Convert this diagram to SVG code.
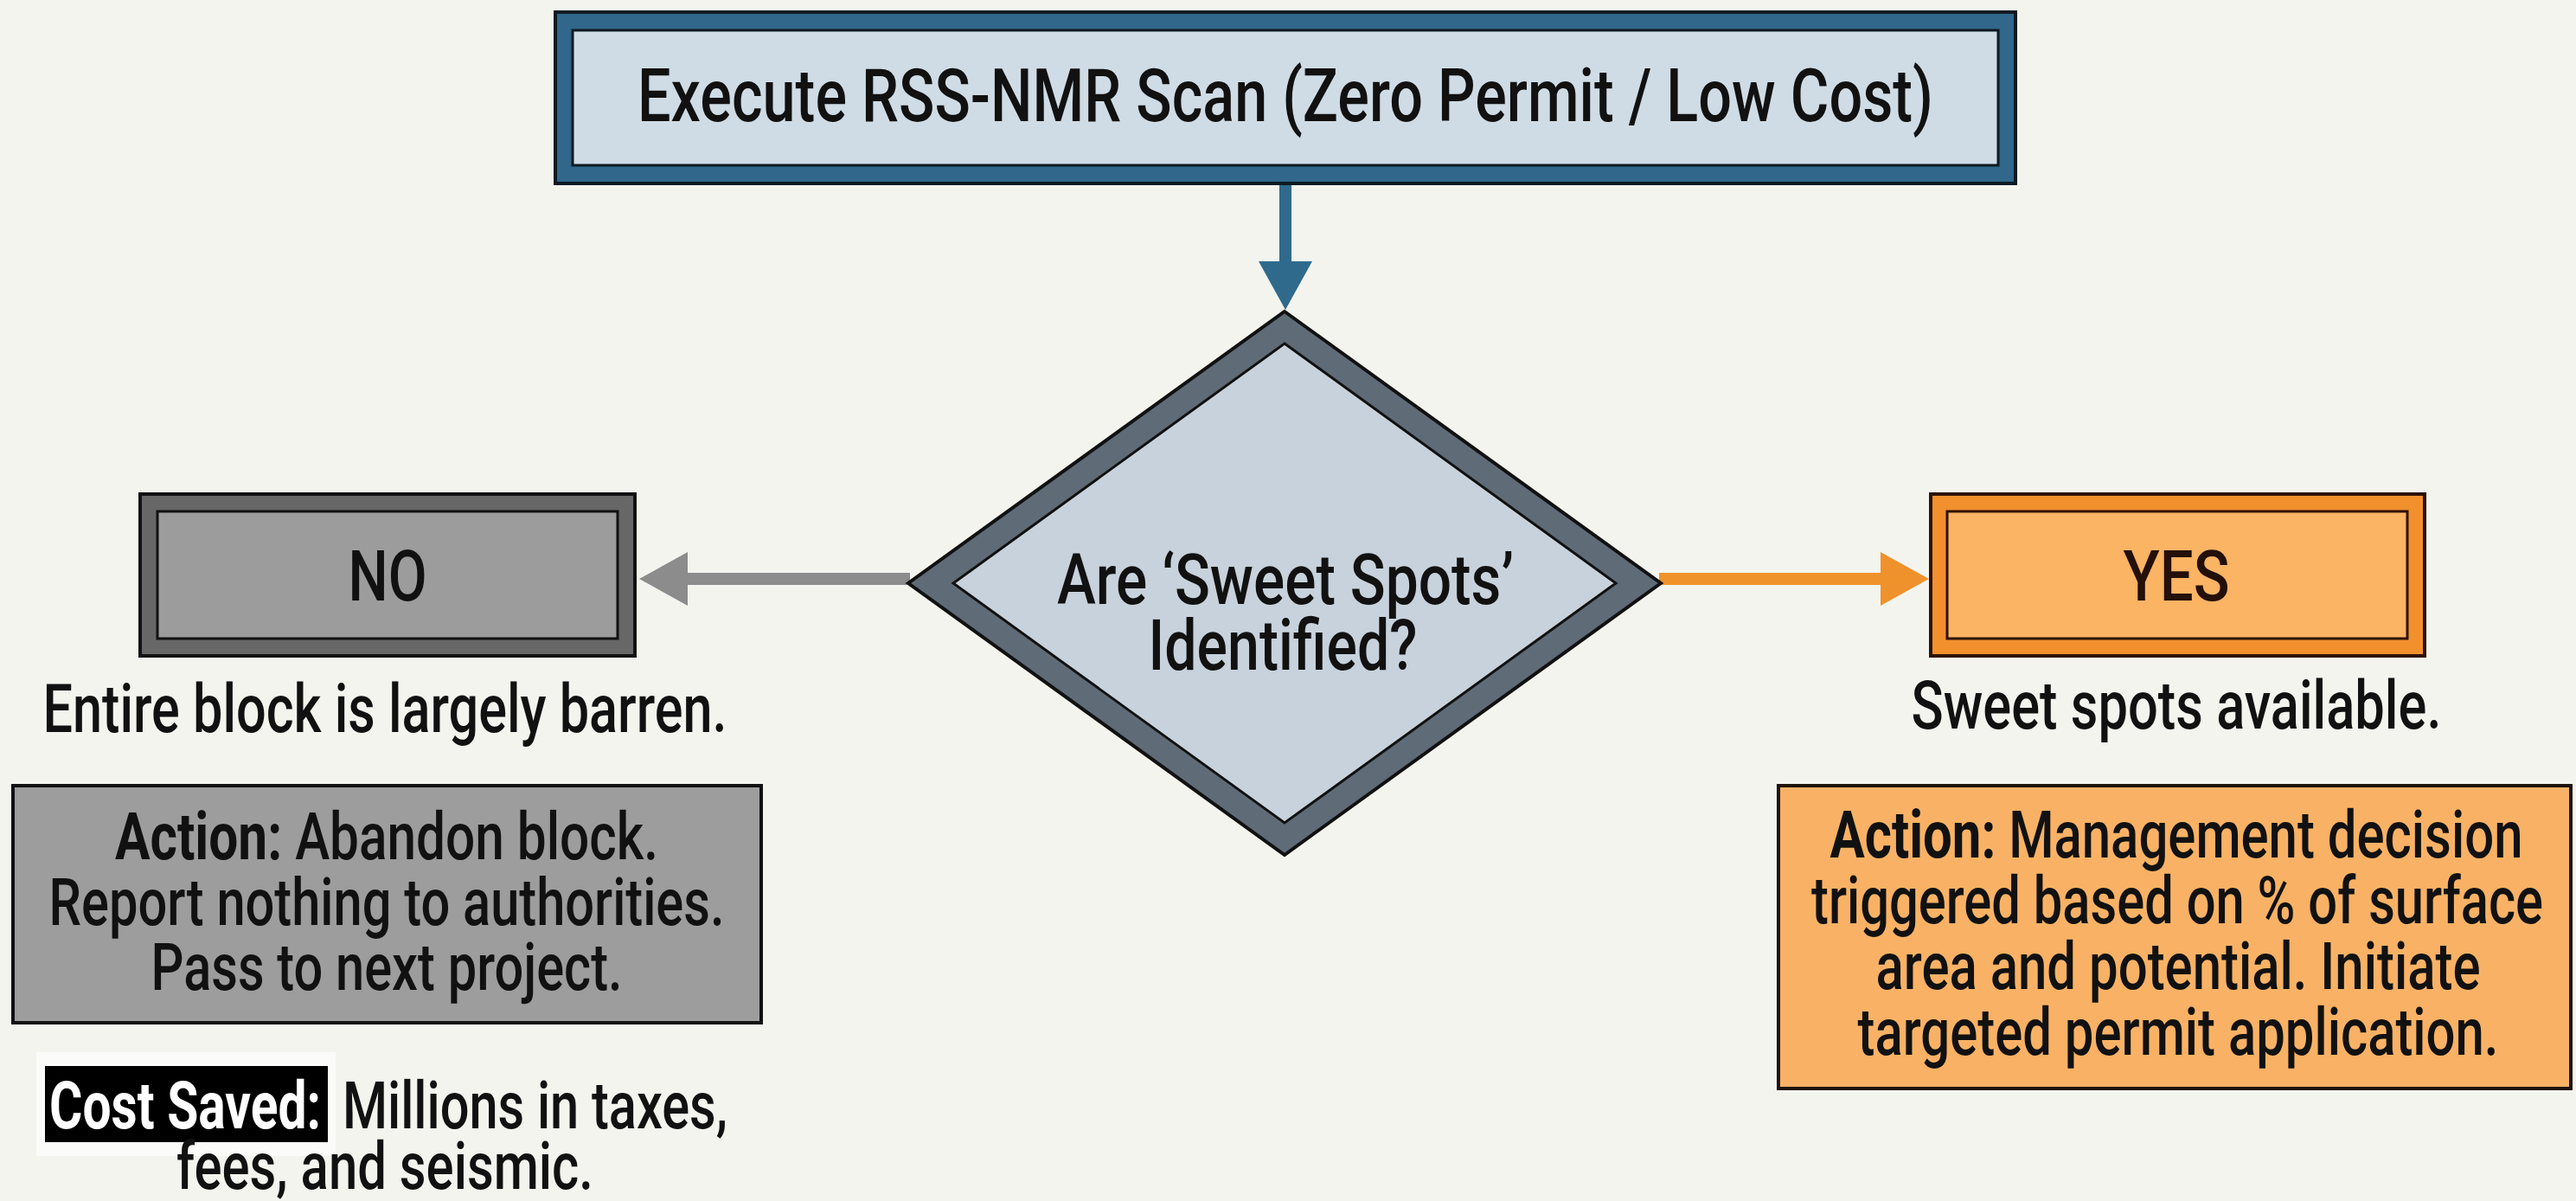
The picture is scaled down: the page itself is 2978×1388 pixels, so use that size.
<svg xmlns="http://www.w3.org/2000/svg" width="2978" height="1388" viewBox="0 0 2978 1388">
<defs>
<style>
text{font-family:Roboto,"Liberation Sans",sans-serif;fill:#111;font-weight:500;}
.t{font-size:76px;text-anchor:middle;}
.b{font-weight:bold;}
.lbl{font-size:82px;text-anchor:middle;}
.conn{fill:none;stroke-width:14;}
</style>
<marker id="hBlue" markerUnits="userSpaceOnUse" viewBox="0 0 56 62" markerWidth="56" markerHeight="62" refX="0" refY="31" orient="auto"><path d="M0,0 L56,31 L0,62 Z" fill="#2f6a8d"/></marker>
<marker id="hGray" markerUnits="userSpaceOnUse" viewBox="0 0 56 62" markerWidth="56" markerHeight="62" refX="0" refY="31" orient="auto"><path d="M0,0 L56,31 L0,62 Z" fill="#8c8c8c"/></marker>
<marker id="hOrange" markerUnits="userSpaceOnUse" viewBox="0 0 56 62" markerWidth="56" markerHeight="62" refX="0" refY="31" orient="auto"><path d="M0,0 L56,31 L0,62 Z" fill="#f0922b"/></marker>
</defs>
<rect width="2978" height="1388" fill="#f4f4ef"/>

<g id="connectors">
<line class="conn" x1="1486" y1="212" x2="1486" y2="302" stroke="#2f6a8d" marker-end="url(#hBlue)"/>
<line class="conn" x1="1052" y1="669" x2="795" y2="669" stroke="#8c8c8c" marker-end="url(#hGray)"/>
<line class="conn" x1="1918" y1="669" x2="2174" y2="669" stroke="#f0922b" marker-end="url(#hOrange)"/>
</g>

<g id="start">
<rect x="642" y="14" width="1688" height="198" fill="#30678a" stroke="#0d1a22" stroke-width="4"/>
<rect x="662" y="35" width="1648" height="156" fill="#d0dce5" stroke="#0d1a22" stroke-width="3"/>
<text x="1486" y="140" style="font-size:85px;text-anchor:middle" textLength="1498" lengthAdjust="spacingAndGlyphs">Execute RSS-NMR Scan (Zero Permit / Low Cost)</text>
</g>

<g id="decision">
<polygon points="1485,360 1920,674 1485,988 1050,674" fill="#5f6b77" stroke="#111" stroke-width="4"/>
<polygon points="1485,397 1868,674 1485,951 1102,674" fill="#c8d2dc" stroke="#111" stroke-width="3"/>
<text x="1486" y="698" style="font-size:81px;text-anchor:middle" textLength="528" lengthAdjust="spacingAndGlyphs">Are ‘Sweet Spots’</text>
<text x="1483" y="774" style="font-size:81px;text-anchor:middle" textLength="311" lengthAdjust="spacingAndGlyphs">Identified?</text>
</g>

<g id="no">
<rect x="162" y="571" width="572" height="187" fill="#676767" stroke="#111" stroke-width="4"/>
<rect x="182" y="591" width="532" height="147" fill="#9c9c9c" stroke="#111" stroke-width="3"/>
<text class="lbl" x="448" y="694" textLength="91" lengthAdjust="spacingAndGlyphs">NO</text>
<text class="t" x="445" y="846" style="font-size:78px" textLength="791" lengthAdjust="spacingAndGlyphs">Entire block is largely barren.</text>
</g>

<g id="no-action">
<rect x="15" y="908" width="865" height="274" fill="#9d9d9d" stroke="#111" stroke-width="4"/>
<text class="t" x="447" y="993" textLength="628" lengthAdjust="spacingAndGlyphs"><tspan class="b">Action:</tspan> Abandon block.</text>
<text class="t" x="447" y="1069" textLength="781" lengthAdjust="spacingAndGlyphs">Report nothing to authorities.</text>
<text class="t" x="447" y="1144" textLength="545" lengthAdjust="spacingAndGlyphs">Pass to next project.</text>
</g>

<g id="cost-saved">
<rect x="42" y="1216" width="346" height="120" fill="#fbfbf9"/>
<rect x="52" y="1232" width="327" height="88" fill="#000"/>
<text x="57" y="1304" class="b" style="font-size:76px;fill:#fff" textLength="314" lengthAdjust="spacingAndGlyphs">Cost Saved:</text>
<text x="396" y="1304" style="font-size:76px" textLength="445" lengthAdjust="spacingAndGlyphs">Millions in taxes,</text>
<text class="t" x="445" y="1374" textLength="482" lengthAdjust="spacingAndGlyphs">fees, and seismic.</text>
</g>

<g id="yes">
<rect x="2232" y="571" width="571" height="187" fill="#f2902e" stroke="#2e1206" stroke-width="4"/>
<rect x="2251" y="591" width="532" height="147" fill="#fbb364" stroke="#2e1206" stroke-width="3"/>
<text class="lbl" x="2516" y="694" style="fill:#24100a" textLength="123" lengthAdjust="spacingAndGlyphs">YES</text>
<text class="t" x="2516" y="842" style="font-size:78px" textLength="613" lengthAdjust="spacingAndGlyphs">Sweet spots available.</text>
</g>

<g id="yes-action">
<rect x="2056" y="908" width="916" height="350" fill="#f9b265" stroke="#1e140c" stroke-width="4"/>
<text class="t" x="2516" y="991" textLength="801" lengthAdjust="spacingAndGlyphs"><tspan class="b">Action:</tspan> Management decision</text>
<text class="t" x="2517" y="1067" textLength="846" lengthAdjust="spacingAndGlyphs">triggered based on % of surface</text>
<text class="t" x="2518" y="1143" textLength="699" lengthAdjust="spacingAndGlyphs">area and potential. Initiate</text>
<text class="t" x="2518" y="1219" textLength="741" lengthAdjust="spacingAndGlyphs">targeted permit application.</text>
</g>
</svg>
